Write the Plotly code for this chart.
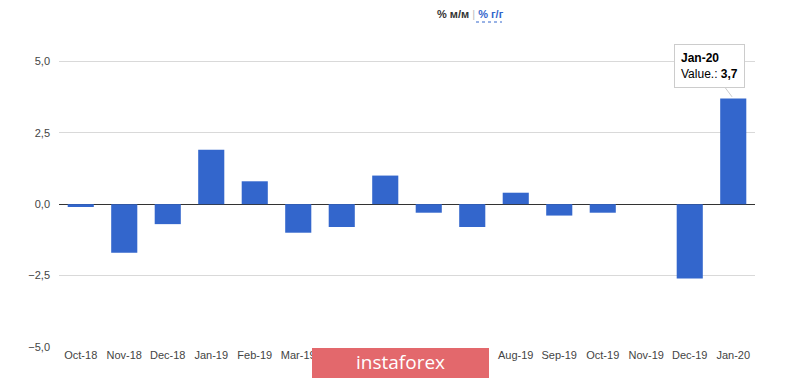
import plotly.graph_objects as go

months = ["Oct-18", "Nov-18", "Dec-18", "Jan-19", "Feb-19", "Mar-19", "Apr-19", "May-19",
          "Jun-19", "Jul-19", "Aug-19", "Sep-19", "Oct-19", "Nov-19", "Dec-19", "Jan-20"]
values = [-0.1, -1.7, -0.7, 1.9, 0.8, -1.0, -0.8, 1.0, -0.3, -0.8, 0.4, -0.4, -0.3, 0.0, -2.6, 3.7]
y_ticks = [-5.0, -2.5, 0.0, 2.5, 5.0]

L, R, T, B = 59, 45, 47, 31
W, H = 800, 378
pw, ph = W - L - R, H - T - B

def px(x):
    return (x - L) / pw

def py(y):
    return (H - B - y) / ph

fig = go.Figure()
fig.add_trace(go.Bar(x=months, y=values, marker=dict(color="#3366cc", line=dict(width=0)),
                     width=0.6, hoverinfo="skip"))

fig.update_layout(
    width=W, height=H, margin=dict(l=L, r=R, t=T, b=B),
    paper_bgcolor="white", plot_bgcolor="white",
    separators=",.", showlegend=False,
    font=dict(family="Arial, Liberation Sans, sans-serif", size=11, color="#444444"),
    xaxis=dict(showgrid=False, showline=False, ticks="", tickfont=dict(size=11, color="#444444"),
               range=[-0.5, len(months) - 0.5], fixedrange=True),
    yaxis=dict(range=[-5, 5.5], tickvals=y_ticks, tickformat=".1f", showgrid=True,
               gridcolor="#d9d9d9", gridwidth=1, zeroline=True, zerolinecolor="#333333",
               zerolinewidth=1, ticks="", ticklabelstandoff=8, tickfont=dict(size=11, color="#444444")),
    bargap=0.4,
)

# Title / toggle
fig.add_annotation(xref="paper", yref="paper", x=px(470), y=py(14), showarrow=False,
                   text="<b>% м/м</b> <span style='color:#bbbbbb'>|</span> <span style='color:#3366cc'><b>% г/г</b></span>",
                   font=dict(size=11, color="#333333"), xanchor="center", yanchor="middle")
fig.add_shape(type="line", xref="paper", yref="paper", x0=px(476), x1=px(502), y0=py(22), y1=py(22),
              line=dict(color="#3366cc", width=1, dash="dot"))

# Tooltip
fig.add_annotation(x="Jan-20", y=3.7, xref="x", yref="y", showarrow=True, arrowhead=0,
                   arrowcolor="#cccccc", arrowwidth=1, ax=-24, ay=-32, standoff=2,
                   text="<b>Jan-20</b><br>Value.: <b>3,7</b>", align="left",
                   bgcolor="white", bordercolor="#cccccc", borderwidth=1, borderpad=6,
                   font=dict(size=12, color="#000000"))

# Watermark
fig.add_shape(type="rect", xref="paper", yref="paper", x0=px(312), x1=px(489), y0=py(378), y1=py(348),
              fillcolor="#e3686c", line=dict(width=0), layer="above")
fig.add_annotation(xref="paper", yref="paper", x=px(400), y=py(362), showarrow=False,
                   text="instaforex", font=dict(size=19, color="white", family="Open Sans, sans-serif"),
                   xanchor="center", yanchor="middle")

fig.write_html("out.html")
